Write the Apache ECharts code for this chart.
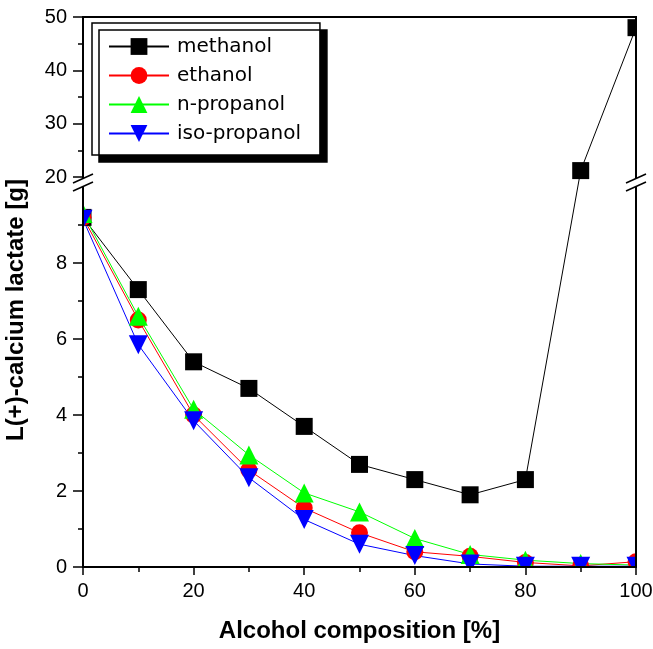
<!DOCTYPE html>
<html>
<head>
<meta charset="utf-8">
<script src="https://cdn.jsdelivr.net/npm/echarts@6/dist/echarts.min.js"></script>
<style>
  html, body { margin: 0; padding: 0; background: #fff; }
  #main { width: 653px; height: 649px; }
</style>
</head>
<body>
<div id="main"></div>
<script>
// alcohol share in the solvent, %
const composition = [0, 10, 20, 30, 40, 50, 60, 70, 80, 90, 100];
// L(+)-calcium lactate, g
const methanol = [9.2, 7.3, 5.4, 4.7, 3.7, 2.7, 2.3, 1.9, 2.3, 21.2, 48];
const ethanol = [9.2, 6.5, 4.0, 2.55, 1.55, 0.9, 0.4, 0.28, 0.12, 0.03, 0.14];
const nPropanol = [9.3, 6.6, 4.15, 2.95, 1.95, 1.45, 0.75, 0.33, 0.18, 0.09, 0.05];
const isoPropanol = [9.15, 5.85, 3.85, 2.35, 1.25, 0.6, 0.3, 0.08, 0.02, 0.02, 0.02];

const yMajorTicks = [0, 2, 4, 6, 8, 20, 30, 40, 50];
const yMinorTicks = [1, 3, 5, 7, 9, 25, 35, 45];

// broken y axis: 0-10 below, 20-50 above (different scale)
const LOW_TOP = 10, HIGH_BOTTOM = 20, HIGH_TOP = 50;
const LOW_PX = 380, GAP_PX = 10, HIGH_PX = 160;
const unit = LOW_TOP / LOW_PX;
const gapUnits = GAP_PX * unit;
const highFactor = HIGH_PX / (HIGH_TOP - HIGH_BOTTOM) * unit;

function toAxis(v) {
  if (v <= LOW_TOP) return v;
  return LOW_TOP + gapUnits + (v - HIGH_BOTTOM) * highFactor;
}
function fromAxis(t) {
  if (t <= LOW_TOP + 1e-6) return Math.round(t * 100) / 100;
  return Math.round((HIGH_BOTTOM + (t - LOW_TOP - gapUnits) / highFactor) * 100) / 100;
}

const GRID = { left: 83, right: 17, top: 17, bottom: 82 };
const W = 653, H = 649;
const narrow = "'Liberation Sans Narrow', 'Arial Narrow', 'Liberation Sans', Arial, sans-serif";

function makeSeries(name, values, color, symbol, size, rotate) {
  return {
    name: name,
    type: 'line',
    data: composition.map((x, i) => [x, toAxis(values[i])]),
    symbol: symbol,
    symbolSize: size,
    symbolRotate: rotate || 0,
    clip: true,
    lineStyle: { color: color, width: 1 },
    itemStyle: { color: color, borderWidth: 0 },
    emphasis: { disabled: true },
    animation: false,
  };
}

const chart = echarts.init(document.getElementById('main'));

const option = {
  backgroundColor: '#fff',
  animation: false,
  grid: {
    left: GRID.left, right: GRID.right, top: GRID.top, bottom: GRID.bottom,
    outerBoundsMode: 'none', containLabel: false,
    show: true, borderColor: '#000', borderWidth: 2, z: 10,
  },
  legend: {
    orient: 'vertical',
    left: 92, top: 23,
    padding: [13, 19, 11, 16],
    itemWidth: 60, itemHeight: 21, itemGap: 8,
    backgroundColor: '#fff',
    borderColor: '#000', borderWidth: 1.5, borderRadius: 0,
    shadowColor: '#000', shadowBlur: 0, shadowOffsetX: 7, shadowOffsetY: 7,
    textStyle: { fontFamily: "'DejaVu Sans', sans-serif", fontSize: 20, color: '#000', lineHeight: 21, padding: [0, 0, 0, 3] },
    selectedMode: false,
  },
  xAxis: {
    type: 'value', min: 0, max: 100, interval: 20, z: 10,
    name: 'Alcohol composition [%]', nameLocation: 'middle', nameGap: 52,
    nameTextStyle: { fontFamily: narrow, fontWeight: 'bold', fontSize: 24, color: '#000' },
    axisLine: { lineStyle: { color: '#000', width: 2 } },
    axisTick: { length: 8, lineStyle: { color: '#000', width: 1.5 } },
    minorTick: { show: true, splitNumber: 2, length: 5, lineStyle: { color: '#000', width: 1.5 } },
    axisLabel: { fontFamily: narrow, fontSize: 20, color: '#000', margin: 14 },
    splitLine: { show: false },
  },
  yAxis: [
    {
      type: 'value', min: 0, max: toAxis(HIGH_TOP), z: 10,
      axisLine: { show: true, lineStyle: { color: '#000', width: 2 } },
      axisTick: { show: true, length: 10, customValues: yMajorTicks.map(toAxis), lineStyle: { color: '#000', width: 1.5 } },
      axisLabel: {
        customValues: yMajorTicks.map(toAxis),
        formatter: (t) => String(fromAxis(t)),
        fontFamily: narrow, fontSize: 20, color: '#000', margin: 16,
      },
      splitLine: { show: false },
    },
    {
      type: 'value', min: 0, max: toAxis(HIGH_TOP), z: 10, position: 'left',
      axisLine: { show: false },
      axisTick: { show: true, length: 5, customValues: yMinorTicks.map(toAxis), lineStyle: { color: '#000', width: 1.5 } },
      axisLabel: { show: false },
      splitLine: { show: false },
    },
  ],
  series: [
    makeSeries('methanol', methanol, '#000000', 'rect', 17),
    makeSeries('ethanol', ethanol, '#ff0000', 'circle', 17),
    makeSeries('n-propanol', nPropanol, '#00ff00', 'triangle', 19),
    makeSeries('iso-propanol', isoPropanol, '#0000ff', 'triangle', 19, 180),
  ],
};
chart.setOption(option);

// markers are clipped at the frame like in the original plot: white strips outside the frame
const plotRight = W - GRID.right, plotBottom = H - GRID.bottom;
const masks = [
  { x: GRID.left - 14, y: 0, width: 14, height: H },
  { x: plotRight, y: 0, width: GRID.right, height: H },
  { x: 0, y: 0, width: W, height: GRID.top },
  { x: 0, y: plotBottom, width: W, height: 14 },
].map((r) => ({ type: 'rect', z: 5, silent: true, shape: r, style: { fill: '#fff' } }));

// break marks on both vertical edges
const yc = chart.convertToPixel({ yAxisIndex: 0 }, (toAxis(LOW_TOP) + toAxis(HIGH_BOTTOM)) / 2);
function breakMarks(x) {
  return [
    { type: 'rect', z: 20, silent: true, shape: { x: x - 3, y: yc - 4, width: 6, height: 8 }, style: { fill: '#fff' } },
    { type: 'line', z: 21, silent: true, shape: { x1: x - 10, y1: yc + 1, x2: x + 10, y2: yc - 8 }, style: { stroke: '#000', lineWidth: 1.5 } },
    { type: 'line', z: 21, silent: true, shape: { x1: x - 10, y1: yc + 9, x2: x + 10, y2: yc }, style: { stroke: '#000', lineWidth: 1.5 } },
  ];
}

chart.setOption({
  graphic: masks.concat(breakMarks(GRID.left), breakMarks(plotRight), [
    {
      type: 'text', z: 20, silent: true,
      x: 16, y: 310, rotation: Math.PI / 2,
      style: {
        text: 'L(+)-calcium lactate [g]',
        font: "bold 24px 'Liberation Sans', Arial, sans-serif",
        fill: '#000', align: 'center', verticalAlign: 'middle',
      },
    },
  ]),
});
</script>
</body>
</html>
